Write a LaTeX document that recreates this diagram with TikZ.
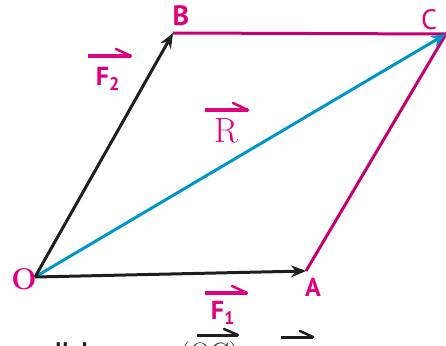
\documentclass[tikz,border=0pt]{standalone}
\usepackage{fontspec}
\newfontfamily\lblfont{PT Sans}
\usetikzlibrary{arrows.meta}
\definecolor{mag}{RGB}{222,0,124}
\definecolor{magline}{RGB}{196,0,112}
\definecolor{cyanl}{RGB}{0,150,200}
\definecolor{ink}{RGB}{30,30,30}
\tikzset{
  lbl/.style={text=mag,font=\lblfont\bfseries\fontsize{28}{28}\selectfont,inner sep=0pt},
  flbl/.style={text=mag,font=\lblfont\bfseries\fontsize{26}{26}\selectfont,inner sep=0pt},
  side/.style={draw=magline,line width=3pt},
  force/.style={draw=ink,line width=3pt,-{Stealth[length=15pt,width=12pt]}},
  result/.style={draw=cyanl,line width=3pt,-{Stealth[length=15pt,width=12pt]}},
  harp/.style={line width=3.5pt,line cap=butt},
  barb/.style={line width=2.5pt,line cap=round},
}
\begin{document}
\begin{tikzpicture}[x=1pt,y=-1pt]
\useasboundingbox (0,0) rectangle (446,345);
\begin{scope}
\clip (0,0) rectangle (446,345);
\coordinate (O) at (35,277);
\coordinate (A) at (306,271);
\coordinate (B) at (173,33);
\coordinate (C) at (446,34);
% sides
\draw[side] (B) -- (C);
\draw[side] (A) -- (C);
% resultant
\draw[result] (O) -- (C);
% forces
\draw[force] (O) -- (B);
\draw[force] (O) -- (A);
% point labels
\node[lbl] (lB) at (181,16) {B};
\node[lbl,font=\lblfont\fontsize{28}{28}\selectfont] (lC) at (429,20) {C};
\node[text=mag,font=\bfseries\fontsize{30}{30}\selectfont,inner sep=0pt] (lO) at (24,279) {O};
\node[flbl] (lA) at (313,287) {A};
% force labels
\node[flbl] (lF2) at (108,79) {F\textsubscript{2}};
\draw[harp,mag] (88,56) -- (131,56);
\draw[barb,mag] (131,56) -- (116,49);
\node[text=mag,font=\fontsize{35}{35}\selectfont,inner sep=0pt] (lR) at (226,131) {R};
\draw[harp,mag] (205,110) -- (248,110);
\draw[barb,mag] (248,110) -- (233,103);
\node[flbl] (lF1) at (223,313) {F\textsubscript{1}};
\draw[harp,mag] (205,293) -- (247,293);
\draw[barb,mag] (247,293) -- (232,286);
% cut-off text at the bottom
\node[anchor=base west,inner sep=0pt,font=\lblfont\bfseries\fontsize{24}{24}\selectfont,text=ink] (txt) at (10,359) {parallelogram};
\node[anchor=base west,inner sep=0pt,font=\fontsize{28}{28}\selectfont,text=ink] (oc) at (180,362) {(OC)};
\draw[harp,ink,line width=3pt] (197,335) -- (238,335);
\draw[barb,ink] (238,335) -- (224,329);
\draw[harp,ink,line width=3pt] (281,337) -- (313,337);
\draw[barb,ink] (313,337) -- (300,331);
\end{scope}
\end{tikzpicture}
\end{document}
